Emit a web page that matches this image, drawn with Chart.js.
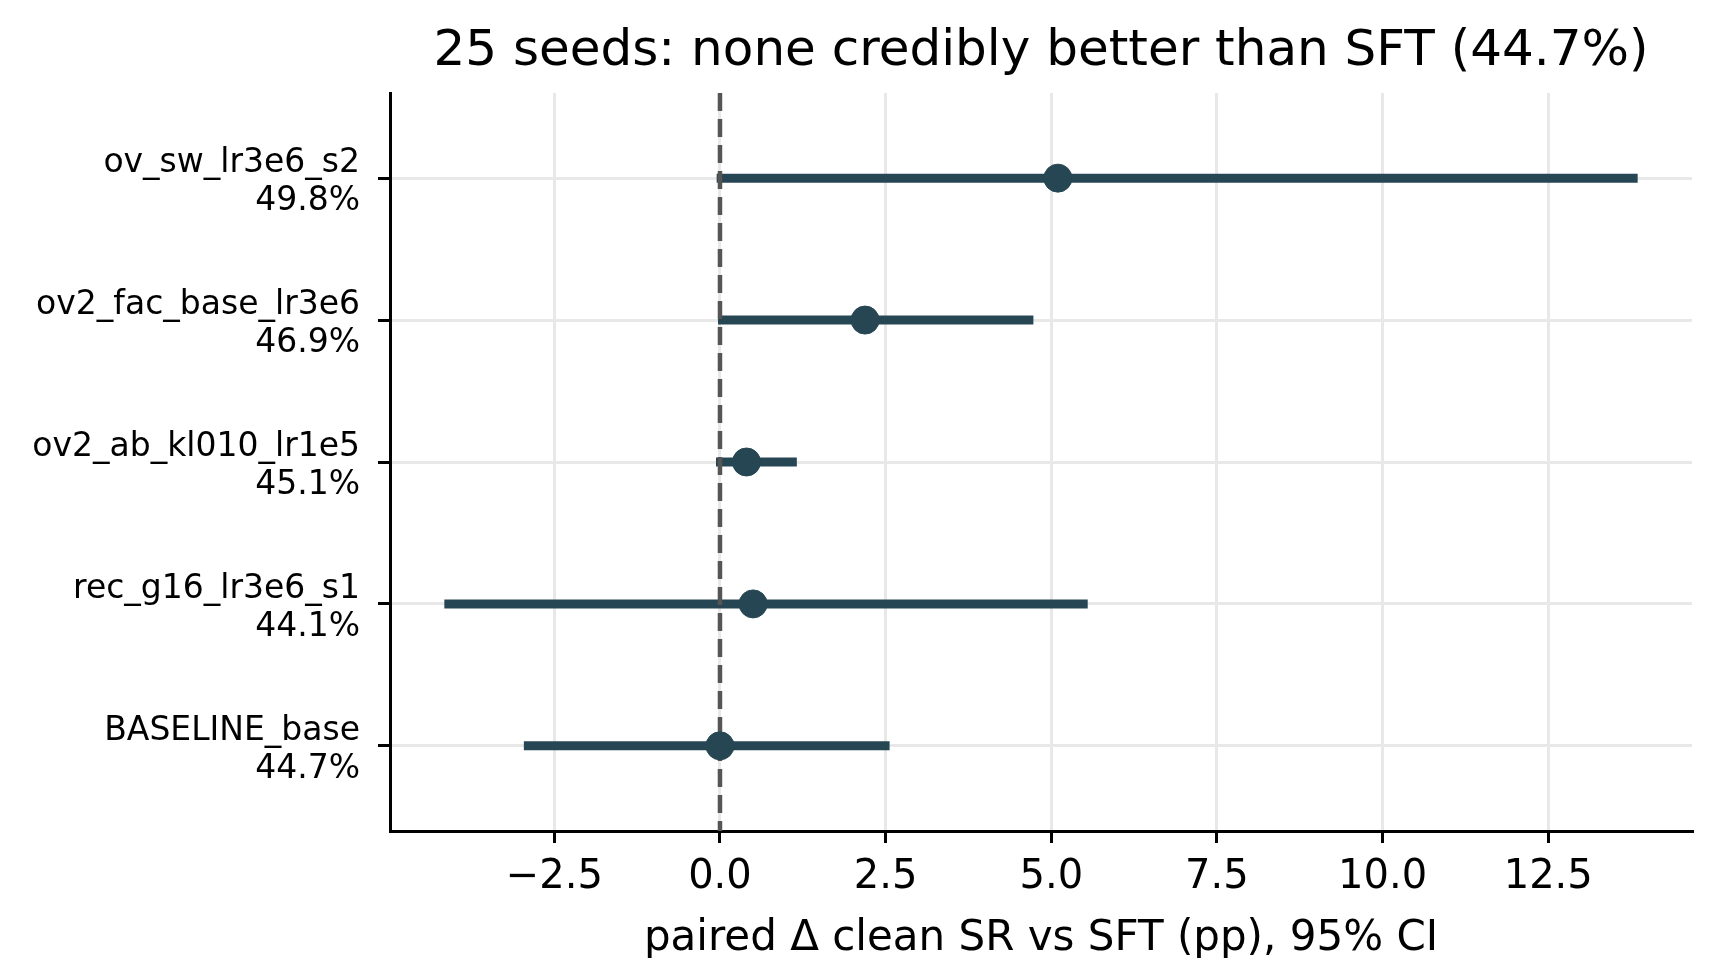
<!DOCTYPE html>
<html>
<head>
<meta charset="utf-8">
<script src="https://cdn.jsdelivr.net/npm/chart.js@4.4.0/dist/chart.umd.min.js"></script>
<style>
  html, body { margin: 0; padding: 0; background: #fff; }
  #wrap { width: 1722px; height: 958px; }
</style>
</head>
<body>
<div id="wrap"><canvas id="forest" width="1722" height="958"></canvas></div>
<script>
// runs, top to bottom
const runNames = ['ov_sw_lr3e6_s2', 'ov2_fac_base_lr3e6', 'ov2_ab_kl010_lr1e5', 'rec_g16_lr3e6_s1', 'BASELINE_base'];
const cleanSR = ['49.8%', '46.9%', '45.1%', '44.1%', '44.7%'];
// paired delta vs SFT (pp) with 95% CI
const delta = [5.10, 2.19, 0.40, 0.50, 0.00];
const ciLow = [-0.05, -0.03, -0.06, -4.16, -2.96];
const ciHigh = [13.85, 4.73, 1.16, 5.55, 2.56];
const xTicks = [-2.5, 0, 2.5, 5, 7.5, 10, 12.5];

const ink = '#264653';
const font = 'DejaVu Sans';

const datasets = [];
runNames.forEach((name, i) => {
  datasets.push({
    label: name + ' CI',
    data: [{ x: ciLow[i], y: i }, { x: ciHigh[i], y: i }],
    showLine: true,
    borderColor: ink,
    borderWidth: 9,
    borderCapStyle: 'butt',
    pointRadius: 0,
    order: 2
  });
});
// reference line at 0
datasets.push({
  label: 'zero',
  data: [{ x: 0, y: -0.6 }, { x: 0, y: 4.6 }],
  showLine: true,
  borderColor: '#555555',
  borderWidth: 4.5,
  borderDash: [18, 8],
  pointRadius: 0,
  order: 1
});
datasets.push({
  label: 'delta',
  data: delta.map((d, i) => ({ x: d, y: i })),
  backgroundColor: ink,
  borderColor: ink,
  borderWidth: 1,
  pointRadius: 14,
  order: 0
});

// center the title over the plot area like matplotlib does
const titleOverAxes = {
  id: 'titleOverAxes',
  afterLayout(chart) {
    if (chart.titleBlock) {
      chart.titleBlock.left = chart.chartArea.left;
      chart.titleBlock.right = chart.chartArea.right;
    }
  }
};

new Chart(document.getElementById('forest'), {
  type: 'scatter',
  data: { datasets },
  plugins: [titleOverAxes],
  options: {
    responsive: false,
    animation: false,
    devicePixelRatio: 1,
    layout: { padding: { left: 0, right: 30, top: 0, bottom: 0 } },
    plugins: {
      legend: { display: false },
      tooltip: { enabled: false },
      title: {
        display: true,
        text: '25 seeds: none credibly better than SFT (44.7%)',
        color: '#000',
        font: { family: font, size: 50, weight: 'normal', lineHeight: 1.2 },
        padding: { top: 22, bottom: 11 }
      }
    },
    elements: { line: { tension: 0 } },
    scales: {
      x: {
        type: 'linear',
        min: -4.98,
        max: 14.67,
        afterBuildTicks: s => { s.ticks = xTicks.map(v => ({ value: v })); },
        afterFit: s => { s.height = 127; },
        ticks: {
          color: '#000',
          font: { family: font, size: 40, lineHeight: 1.2 },
          padding: 11,
          maxRotation: 0,
          callback: v => v.toFixed(1).replace('-', '\u2212')
        },
        grid: {
          color: '#e8e8e8',
          lineWidth: 3,
          tickColor: '#000',
          tickWidth: 3,
          tickLength: 12
        },
        border: { color: '#000', width: 3 },
        title: {
          display: true,
          text: 'paired \u0394 clean SR vs SFT (pp), 95% CI',
          color: '#000',
          font: { family: font, size: 42, lineHeight: 0.9 },
          padding: { top: 0, bottom: 0 }
        }
      },
      y: {
        type: 'linear',
        reverse: true,
        min: -0.6,
        max: 4.6,
        afterBuildTicks: s => { s.ticks = runNames.map((n, i) => ({ value: i })); },
        afterFit: s => { s.width = 390; },
        ticks: {
          color: '#000',
          font: { family: font, size: 33, lineHeight: 1.15 },
          padding: 18,
          labelOffset: 4.5,
          callback: v => [runNames[Math.round(v)], cleanSR[Math.round(v)]]
        },
        grid: {
          color: '#e8e8e8',
          lineWidth: 3,
          tickColor: '#000',
          tickWidth: 3,
          tickLength: 12
        },
        border: { color: '#000', width: 3 }
      }
    }
  }
});
</script>
</body>
</html>
